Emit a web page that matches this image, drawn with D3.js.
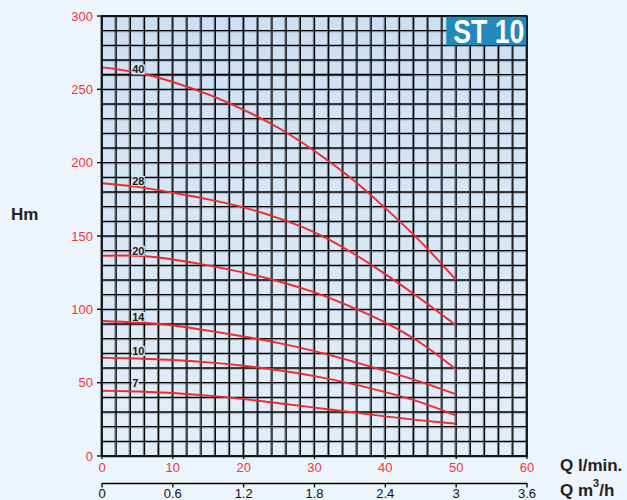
<!DOCTYPE html>
<html><head><meta charset="utf-8">
<script src="https://cdn.jsdelivr.net/npm/d3@7"></script>
<style>
html,body{margin:0;padding:0;background:#eef4fb;}
svg{display:block;}
</style></head>
<body>
<svg id="c" width="627" height="500"></svg>
<script>
// ---- data ----
const flowLmin = [0, 5, 10, 15, 20, 25, 30, 35, 40, 45, 50];
const curveNames = ["40", "28", "20", "14", "10", "7"];
const head40 = [265, 261.5, 255, 246.5, 236, 223.5, 208, 190, 169, 146, 120];
const head28 = [186, 183.5, 179.5, 175, 169.5, 162, 152.5, 139.5, 124, 107, 89];
const head20 = [136.5, 136.5, 134, 130, 125, 119, 111.5, 102, 91, 77, 59];
const head14 = [92, 91, 89, 85.5, 81.5, 77, 71.5, 65, 58, 50.5, 42];
const head10 = [67, 66.5, 65.5, 63.8, 61.5, 58.5, 54.5, 49.5, 43.5, 36.5, 27.5];
const head7  = [44.5, 44, 43, 41.2, 38.8, 36, 33, 30, 27, 24.3, 22];
const labelHead = [263.5, 187.5, 140, 95, 71.5, 49.5];
const labelFlow = 4;
const xTicksLmin = [0, 10, 20, 30, 40, 50, 60];
const xTicksM3h = ["0", "0.6", "1.2", "1.8", "2.4", "3", "3.6"];
const yTicks = [0, 50, 100, 150, 200, 250, 300];
const title = "ST 10";

const heads = [head40, head28, head20, head14, head10, head7];

const svg = d3.select("#c");
const L = 102, R = 527, T = 16, B = 456;
const x = d3.scaleLinear().domain([0, 60]).range([L, R]);
const y = d3.scaleLinear().domain([0, 300]).range([B, T]);
const xm = d3.scaleLinear().domain([0, 3.6]).range([L, R]);

// gradient background
const defs = svg.append("defs");
const g = defs.append("linearGradient").attr("id", "bg").attr("x1", 0).attr("y1", 0).attr("x2", 0).attr("y2", 1);
g.append("stop").attr("offset", "0%").attr("stop-color", "#cce0f3");
g.append("stop").attr("offset", "100%").attr("stop-color", "#e4eef8");
svg.append("rect").attr("x", L).attr("y", T).attr("width", R - L).attr("height", B - T).attr("fill", "url(#bg)");

// grid
const gq = d3.range(0, 61, 2), gh = d3.range(0, 301, 10);
const grid = svg.append("g");
grid.selectAll(".vs").data(gq).join("line")
  .attr("x1", d => x(d) - 1.2).attr("x2", d => x(d) - 1.2).attr("y1", T).attr("y2", B)
  .attr("stroke", "#6b7886").attr("stroke-width", 1);
grid.selectAll(".hs").data(gh).join("line")
  .attr("x1", L).attr("x2", R).attr("y1", d => y(d) + 1.2).attr("y2", d => y(d) + 1.2)
  .attr("stroke", "#8a96a3").attr("stroke-width", 0.8);
grid.selectAll(".v").data(gq).join("line")
  .attr("x1", d => x(d)).attr("x2", d => x(d)).attr("y1", T).attr("y2", B)
  .attr("stroke", "#000").attr("stroke-width", 1.3);
grid.selectAll(".h").data(gh).join("line")
  .attr("x1", L).attr("x2", R).attr("y1", d => y(d)).attr("y2", d => y(d))
  .attr("stroke", "#000").attr("stroke-width", 1.3);
// heavier guide line at 260
svg.append("line").attr("x1", L).attr("x2", x(44)).attr("y1", y(260)).attr("y2", y(260))
  .attr("stroke", "#000").attr("stroke-width", 1.8);

// title box
const tb = svg.append("g");
tb.append("rect").attr("x", x(48.6)).attr("y", y(300)).attr("width", R - x(48.6)).attr("height", y(280) - y(300))
  .attr("fill", "#2289ba");
tb.append("text").attr("x", x(48.6) + 7).attr("y", y(280) - 2)
  .attr("font-family", "'Liberation Sans Narrow', 'Liberation Sans', Arial, sans-serif").attr("font-weight", "bold")
  .attr("font-size", 34).attr("fill", "#fff")
  .attr("textLength", 71).attr("lengthAdjust", "spacingAndGlyphs").text(title);

// curves
const line = d3.line().x(d => x(d[0])).y(d => y(d[1])).curve(d3.curveNatural);
svg.append("g").selectAll("path").data(heads).join("path")
  .attr("d", h => line(flowLmin.map((q, i) => [q, h[i]])))
  .attr("fill", "none").attr("stroke", "#ee2a2e").attr("stroke-width", 1.9);

// curve labels
const lg = svg.append("g");
curveNames.forEach((n, i) => {
  const t = lg.append("text").attr("x", x(labelFlow) + 1.8).attr("y", y(labelHead[i]))
    .attr("dy", "0.36em").attr("font-family", "'Liberation Sans', Arial, sans-serif")
    .attr("font-weight", "bold").attr("font-size", 11).attr("fill", "#1a1a1a").text(n);
  const bb = t.node().getBBox();
  lg.insert("rect", "text").attr("x", bb.x - 0.5).attr("y", bb.y + 1).attr("width", bb.width + 1).attr("height", bb.height - 2)
    .attr("fill", "#d6e6f5");
});

// frame
svg.append("rect").attr("x", L).attr("y", T).attr("width", R - L).attr("height", B - T)
  .attr("fill", "none").attr("stroke", "#000").attr("stroke-width", 1.3);

const font = "'Liberation Sans', Arial, sans-serif";
// y axis
const ya = svg.append("g");
ya.selectAll("line").data(yTicks).join("line").attr("x1", L - 5).attr("x2", L).attr("y1", d => y(d)).attr("y2", d => y(d))
  .attr("stroke", "#000").attr("stroke-width", 1.3);
ya.selectAll("text").data(yTicks).join("text").attr("x", 93).attr("y", d => y(d)).attr("dy", "0.35em")
  .attr("text-anchor", "end").attr("font-family", font).attr("font-size", 13).attr("fill", "#f0373b").text(d => d);

// x axis l/min
const xa = svg.append("g");
xa.selectAll("line").data(xTicksLmin).join("line").attr("x1", d => x(d)).attr("x2", d => x(d)).attr("y1", B).attr("y2", B + 3)
  .attr("stroke", "#000").attr("stroke-width", 1.3);
xa.selectAll("text").data(xTicksLmin).join("text").attr("x", d => x(d)).attr("y", 472)
  .attr("text-anchor", "middle").attr("font-family", font).attr("font-size", 13).attr("fill", "#f0373b").text(d => d);

// x axis m3/h
const xb = svg.append("g");
xb.append("line").attr("x1", L).attr("x2", R).attr("y1", 483.5).attr("y2", 483.5).attr("stroke", "#000").attr("stroke-width", 1.3);
xb.selectAll("line.t").data(xTicksM3h).join("line").attr("class", "t")
  .attr("x1", d => xm(+d)).attr("x2", d => xm(+d)).attr("y1", 483).attr("y2", 487.5)
  .attr("stroke", "#000").attr("stroke-width", 1.3);
xb.selectAll("text").data(xTicksM3h).join("text").attr("x", d => xm(+d)).attr("y", 498)
  .attr("text-anchor", "middle").attr("font-family", font).attr("font-size", 13).attr("fill", "#111").text(d => d);

// axis titles
svg.append("text").attr("x", 11).attr("y", 220).attr("font-family", font).attr("font-weight", "bold")
  .attr("font-size", 17).attr("fill", "#222").text("Hm");
svg.append("text").attr("x", 560).attr("y", 471).attr("font-family", font).attr("font-weight", "bold")
  .attr("font-size", 17).attr("fill", "#222").text("Q l/min.");
const q2 = svg.append("text").attr("x", 560).attr("y", 496).attr("font-family", font).attr("font-weight", "bold")
  .attr("font-size", 17).attr("fill", "#222");
q2.append("tspan").text("Q m");
q2.append("tspan").attr("font-size", 11).attr("dy", -9).text("3");
q2.append("tspan").attr("dy", 9).text("/h");
</script>
</body></html>
